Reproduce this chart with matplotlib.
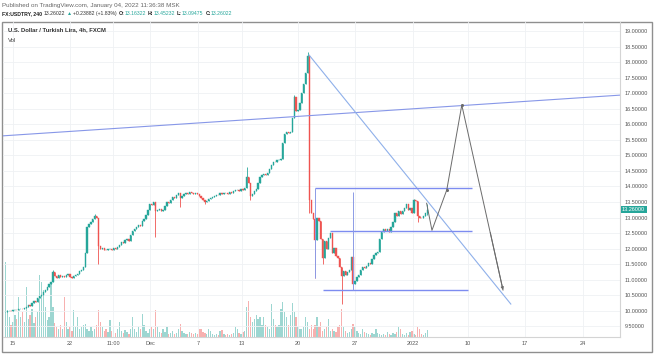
import numpy as np
import matplotlib.pyplot as plt
from matplotlib.patches import Rectangle

W, H = 654, 356
plt.rcParams['font.family'] = ['Liberation Sans', 'DejaVu Sans']

# 4h bars, index 0 = Nov 15 00:00
first_bar = -4
first_open = 9.97
closes = [
    9.98, 9.99, 10.01, 9.99, 10.02, 10.04, 10.03, 10.05, 10.07, 10.06,
    10.10, 10.13, 10.18, 10.15, 10.24, 10.32, 10.28, 10.40, 10.47, 10.52,
    10.60, 10.66, 10.78, 10.86, 10.92, 11.24, 11.12, 11.05, 11.15, 11.10,
    11.12, 11.08, 11.14, 11.18, 11.10, 11.06, 11.12, 11.14, 11.20, 11.28,
    11.32, 11.40, 11.85, 12.70, 12.78, 12.85, 12.95, 13.05, 12.98, 12.10,
    11.98, 12.02, 11.96, 11.95, 11.98, 12.00, 11.97, 12.02, 11.99, 12.05,
    12.12, 12.20, 12.18, 12.28, 12.30, 12.26, 12.45, 12.58, 12.62, 12.70,
    12.76, 12.72, 12.90, 12.95, 13.08, 13.25, 13.45, 13.40, 13.51, 13.20,
    13.24, 13.28, 13.22, 13.26, 13.38, 13.50, 13.46, 13.58, 13.67, 13.64,
    13.72, 13.80, 13.62, 13.70, 13.76, 13.80, 13.77, 13.82, 13.78, 13.75,
    13.80, 13.76, 13.70, 13.62, 13.55, 13.50, 13.54, 13.60, 13.64, 13.67,
    13.70, 13.74, 13.72, 13.78, 13.75, 13.80, 13.78, 13.76, 13.82, 13.80,
    13.84, 13.88, 13.90, 13.86, 13.92, 13.88, 13.95, 14.30, 14.10, 13.68,
    13.75, 13.85, 13.92, 14.10, 14.32, 14.36, 14.40, 14.38, 14.45, 14.55,
    14.70, 14.80, 14.78, 14.84, 14.86, 14.90, 15.40, 15.70, 15.75, 15.72,
    15.74, 16.20, 16.88, 16.42, 16.46, 16.70, 17.00, 17.30, 17.65, 18.20,
    13.57, 13.15, 12.95, 12.28, 12.98, 12.88, 12.30, 11.70, 12.25, 12.00,
    12.35, 12.52, 11.85, 12.02, 11.76, 11.70, 11.40, 11.12, 11.28, 11.15,
    11.25, 11.30, 11.72, 10.85, 10.95, 11.08, 11.15, 11.30, 11.40, 11.38,
    11.45, 11.55, 11.50, 11.68, 11.80, 11.85, 11.90, 12.30, 12.55, 12.62,
    12.58, 12.62, 12.55, 12.70, 12.85, 13.15, 13.05, 13.20, 13.12, 13.22,
    13.30, 13.45, 13.25, 13.30, 13.15, 13.55, 13.52, 13.05, 13.00, 12.98,
    13.05, 13.16, 13.26,
]
# visible wicks only (bar index -> price)
wick_highs = {21: 11.30, 43: 13.12, 123: 14.64, 148: 16.95, 155: 18.33,
              211: 13.60, 218: 13.45}
wick_lows = {45: 11.52, 75: 12.39, 88: 13.35, 101: 13.45, 125: 13.55,
             156: 13.15, 159: 11.06, 163: 11.50, 173: 10.22, 179: 10.75,
             213: 12.85, 218: 13.09}
volumes = [
    75, 27, 20, 12, 15, 22, 18, 40, 20, 25,
    15, 50, 18, 22, 28, 14, 20, 25, 62, 55,
    47, 30, 17, 20, 53, 30, 14, 10, 8, 12,
    8, 40, 15, 8, 10, 6, 27, 10, 20, 8,
    10, 12, 13, 8, 6, 10, 6, 8, 12, 27,
    15, 10, 6, 8, 5, 17, 6, 10, 4, 8,
    15, 6, 4, 7, 5, 3, 8, 20, 8, 5,
    10, 8, 23, 12, 6, 4, 8, 10, 8, 27,
    10, 5, 4, 8, 5, 10, 3, 4, 6, 3,
    4, 8, 13, 6, 4, 3, 3, 5, 4, 3,
    4, 3, 8, 8, 5, 4, 3, 8, 6, 3,
    2, 3, 2, 6, 7, 3, 2, 3, 2, 3,
    4, 10, 8, 4, 3, 5, 6, 30, 36, 20,
    15, 18, 22, 18, 20, 12, 20, 12, 10, 8,
    33, 18, 12, 10, 12, 28, 35, 25, 20, 12,
    22, 34, 25, 20, 10, 8, 8, 10, 20, 15,
    8, 12, 8, 12, 20, 10, 15, 6, 8, 10,
    18, 6, 8, 6, 5, 10, 12, 28, 10, 6,
    4, 5, 8, 13, 10, 6, 4, 3, 8, 5,
    4, 3, 2, 4, 3, 8, 4, 3, 2, 3,
    2, 5, 3, 2, 4, 3, 5, 10, 8, 3,
    2, 4, 2, 5, 6, 3, 2, 10, 8, 3,
    2, 4, 7,
]

tick_pos = [0, 30, 52.6, 72.1, 97.4, 120.5, 150, 180, 210.5, 239.5, 269.5, 300]
tick_labels = ['15', '22', '11:00', 'Dec', '7', '13', '20', '27', '2022', '10', '17', '24']
price_ticks = np.arange(9.5, 19.01, 0.5)

# drawings (bar index, price)
up_line_x, up_line_y = [-5, 320], [15.63, 16.94]
down_line_x, down_line_y = [155.8, 262], [18.23, 10.22]
level_prices = [13.94, 12.58, 10.67]
level_from = [159, 166.8, 163.2]
level_to = [241.6, 241.6, 239.5]
vline_x = [159, 179]
vline_top = [13.94, 13.83]
vline_bottom = [11.06, 10.67]
path_x = [217.7, 220.5, 228.3, 236.2, 257.9]
path_y = [13.46, 12.59, 13.89, 16.62, 10.67]

UP, DOWN = '#26a69a', '#ef5350'

fig = plt.figure(figsize=(W / 100, H / 100), dpi=100)


def px(x, y):
    return x / W, 1 - y / H


ax = fig.add_axes([3 / W, 1 - 337 / H, 617 / W, 315 / H])
vax = ax.twinx()
ax.set_zorder(vax.get_zorder() + 1)
ax.patch.set_visible(False)

xs = np.arange(first_bar, first_bar + len(closes))
closes_a = np.array(closes)
opens = np.concatenate([[first_open], closes_a[:-1]])
colors = [UP if c >= o else DOWN for o, c in zip(opens, closes_a)]

vax.bar(xs, volumes, width=0.7, color=colors, alpha=0.45, linewidth=0)
vax.set_ylim(0, 315)
vax.axis('off')

highs = [wick_highs.get(i, max(o, c)) for i, o, c in zip(xs, opens, closes_a)]
lows = [wick_lows.get(i, min(o, c)) for i, o, c in zip(xs, opens, closes_a)]
ax.vlines(xs, lows, highs, colors=colors, linewidth=0.6, zorder=3)
ax.bar(xs, closes_a - opens, bottom=opens, width=0.7, color=colors,
       edgecolor=colors, linewidth=0.3, zorder=3)

# drawings
ax.plot(up_line_x, up_line_y, color='#8797e8', lw=0.8, zorder=4)
ax.plot(down_line_x, down_line_y, color='#8fb0ea', lw=0.8, zorder=4)
ax.hlines(level_prices, level_from, level_to, color='#7d8cf0', lw=1.0, zorder=4)
ax.vlines(vline_x, vline_bottom, vline_top, color='#8c9be6', lw=0.7, zorder=4)
ax.plot(path_x, path_y, color='#6b6b6b', lw=0.7, zorder=5)
ax.plot(path_x[2:4], path_y[2:4], ls='none', marker='o', ms=1.2, color='#6b6b6b', zorder=5)
ax.annotate('', xy=(path_x[-1], path_y[-1]), xytext=(path_x[-2] + 15, path_y[-2] - 4.1),
            arrowprops=dict(arrowstyle='-|>', color='#6b6b6b', lw=0.7,
                            mutation_scale=4, shrinkA=0, shrinkB=0), zorder=5)

ax.set_xlim(-5.26, 319.47)
ax.set_ylim(9.16, 19.29)
ax.set_xticks(tick_pos)
ax.set_xticklabels(tick_labels)
ax.set_yticks(price_ticks)
ax.set_yticklabels(['%.5f' % p for p in price_ticks])
ax.yaxis.tick_right()
ax.tick_params(axis='y', length=0, pad=3.6, labelsize=4, labelcolor='#555555')
ax.tick_params(axis='x', length=0, pad=2.6, labelsize=4, labelcolor='#555555')
ax.grid(True, color='#eff1f4', lw=0.6)
ax.set_axisbelow(True)
for side in ['top', 'left']:
    ax.spines[side].set_visible(False)
for side in ['right', 'bottom']:
    ax.spines[side].set_color('#d4d4d4')
    ax.spines[side].set_linewidth(0.8)

# last price tag
ax.annotate('%.5f' % closes[-1], xy=(1, closes[-1]), xycoords=('axes fraction', 'data'),
            xytext=(1.5, 0), textcoords='offset points', va='center', ha='left',
            fontsize=4, color='white',
            bbox=dict(boxstyle='square,pad=0.25', fc=UP, ec='none'))

# outer frame
fig.add_artist(Rectangle(px(2, 352), 650 / W, 330 / H, transform=fig.transFigure,
                         fill=False, ec='#8f8f8f', lw=1.0))

# texts
fig.text(*px(8, 30), 'U.S. Dollar / Turkish Lira, 4h, FXCM', fontsize=4.2,
         weight='bold', color='#333333', va='center')
fig.text(*px(8, 40), 'Vol', fontsize=4.3, color='#444444', va='center')
fig.text(*px(2, 5), 'Published on TradingView.com, January 04, 2022 11:36:38 MSK',
         fontsize=4.5, color='#666666', va='center')

# header line: pieces laid out one after another
header = [
    ('FX:USDTRY, 240', '#222222', 'bold', 2.0),
    ('13.26022', '#333333', 'normal', 1.2),
    ('\u25b2', UP, 'normal', 1.2),
    ('+0.23882 (+1.83%)', '#333333', 'normal', 2.0),
    ('O:', '#222222', 'bold', 0),
    ('13.16322', UP, 'normal', 2.0),
    ('H:', '#222222', 'bold', 0),
    ('13.45232', UP, 'normal', 2.0),
    ('L:', '#222222', 'bold', 0),
    ('13.09475', UP, 'normal', 2.0),
    ('C:', '#222222', 'bold', 0),
    ('13.26022', UP, 'normal', 0),
]
renderer = fig.canvas.get_renderer()
x = 2.0
for s, c, w, gap in header:
    t = fig.text(*px(x, 13.5), s, fontsize=3.7, color=c, weight=w, va='center',
                 family=['Liberation Sans', 'DejaVu Sans'])
    x += t.get_window_extent(renderer).width + gap

fig.savefig('out.png', dpi=100)
